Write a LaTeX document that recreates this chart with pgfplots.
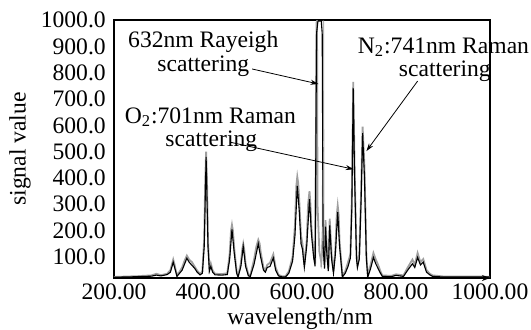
\documentclass[border=0pt]{standalone}
\usepackage{pgfplots}
\pgfplotsset{compat=1.18}
\usepackage{fontspec}
\setmainfont{Liberation Serif}
\usetikzlibrary{arrows.meta}
\begin{document}
\fontsize{11.8}{13}\selectfont
\begin{tikzpicture}
\useasboundingbox (-57pt,-25.5pt) rectangle (208.5pt,139pt);
\begin{axis}[
  scale only axis, width=188pt, height=129pt,
  xmin=200, xmax=1000, ymin=20, ymax=1000,
  xtick={200,400,600,800,1000},
  ytick={100,200,300,400,500,600,700,800,900,1000},
  xticklabels={200.00,400.00,600.00,800.00,1000.00},
  yticklabels={100.0,200.0,300.0,400.0,500.0,600.0,700.0,800.0,900.0,1000.0},
  major tick length=0pt,
  tick label style={font=\fontsize{11.8}{13}\selectfont},
  xticklabel style={yshift=1pt},
  axis line style={line width=0.6pt},
  xlabel={wavelength/nm}, ylabel={signal value},
  xlabel style={at={(axis description cs:0.495,-0.158)},anchor=center},
  ylabel style={at={(axis description cs:-0.25,0.5)},anchor=center},
  label style={font=\fontsize{11.8}{13}\selectfont},
  clip mode=individual,
]
\addplot[gray!75, line width=0.9pt] coordinates {
(200,24)(250,27)(280,30)(290,36)(300,31)(313,36)(320,50)(323,70)(326,90)(329,70)(331,52)(334,30)(340,45)(345,60)(350,85)(355,105)(360,90)(366,80)(372,62)(377,48)(383,36)(388,45)(392,170)(394,380)(396,500)(398,380)(400,160)(403,55)(406,75)(410,48)(415,36)(430,35)(441,38)(446,110)(449,200)(451,222)(453,200)(456,130)(461,45)(464,26)(470,78)(473,130)(475,150)(477,130)(480,75)(486,32)(490,30)(498,90)(503,140)(507,165)(510,150)(512,120)(518,60)(522,48)(526,70)(532,78)(539,110)(544,60)(550,32)(558,26)(565,27)(572,45)(580,100)(585,220)(588,370)(590,405)(592,380)(594,320)(598,180)(601,150)(605,70)(610,160)(613,300)(616,350)(618,300)(620,215)(625,110)(628,75)(631,990)(632,996)(633,300)(637,120)(641,80)(645,160)(648,70)(650,240)(653,130)(656,55)(659,245)(663,110)(667,45)(671,130)(674,260)(676,295)(678,260)(680,160)(686,28)(692,45)(698,80)(703,110)(706,320)(709,765)(712,440)(716,110)(718,70)(722,110)(726,360)(729,595)(733,440)(737,110)(740,28)(746,70)(752,115)(757,90)(762,70)(767,45)(771,30)(790,28)(800,34)(816,30)(825,60)(835,90)(840,70)(846,115)(852,80)(858,92)(865,50)(872,36)(878,30)(900,26)(1000,25)
};
\addplot[gray!60, line width=0.4pt] coordinates {(640,60)(643,200)(645,996)(646,996)(647,200)(649,60)};
\addplot[black, line width=0.55pt] coordinates {
(200,23)(250,25)(280,27)(290,31)(300,28)(313,33)(320,42)(326,80)(331,47)(334,26)(345,50)(355,95)(360,80)(366,68)(372,56)(377,42)(383,32)(388,38)(392,140)(396,480)(400,140)(403,46)(406,64)(410,42)(415,32)(430,31)(441,33)(446,90)(451,205)(456,112)(461,38)(464,24)(470,64)(475,140)(480,64)(486,28)(490,26)(498,72)(507,150)(512,100)(518,50)(522,42)(526,60)(532,64)(539,96)(544,50)(550,28)(558,24)(565,24)(572,38)(580,84)(585,180)(590,370)(594,280)(598,150)(601,130)(605,60)(610,140)(616,320)(620,190)(625,96)(628,64)(631,950)(634,996)(641,996)(643,950)(645,140)(648,56)(650,215)(653,110)(656,46)(659,220)(663,92)(667,38)(671,110)(676,270)(680,140)(686,24)(692,38)(698,64)(703,96)(706,280)(709,740)(712,400)(716,92)(718,60)(722,92)(726,330)(729,570)(733,400)(737,92)(740,24)(746,56)(752,98)(757,74)(762,56)(767,38)(771,26)(790,25)(800,30)(816,26)(825,50)(835,74)(840,60)(846,98)(852,70)(858,80)(865,42)(872,32)(878,26)(900,24)(1000,24)
};
\draw[line width=0.8pt,-{Stealth[length=4pt,width=3pt]}] (rel axis cs:0,0) -- (rel axis cs:1,0);
\node at (axis cs:390,916) {632nm Rayeigh};
\node at (axis cs:390,825) {scattering};
\node at (axis cs:405,631) {O\textsubscript{2}:701nm Raman};
\node at (axis cs:407,540) {scattering};
\node at (axis cs:901,897) {N\textsubscript{2}:741nm Raman};
\node at (axis cs:904,806) {scattering};
\draw[line width=0.4pt,-{Stealth[length=4pt,width=2.5pt]}] (axis cs:494,814) -- (axis cs:635,757);
\draw[line width=0.4pt,-{Stealth[length=4pt,width=2.5pt]}] (axis cs:447,536) -- (axis cs:710,433);
\draw[line width=0.4pt,-{Stealth[length=4pt,width=2.5pt]}] (axis cs:846,768) -- (axis cs:737,502);
\end{axis}
\end{tikzpicture}
\end{document}
